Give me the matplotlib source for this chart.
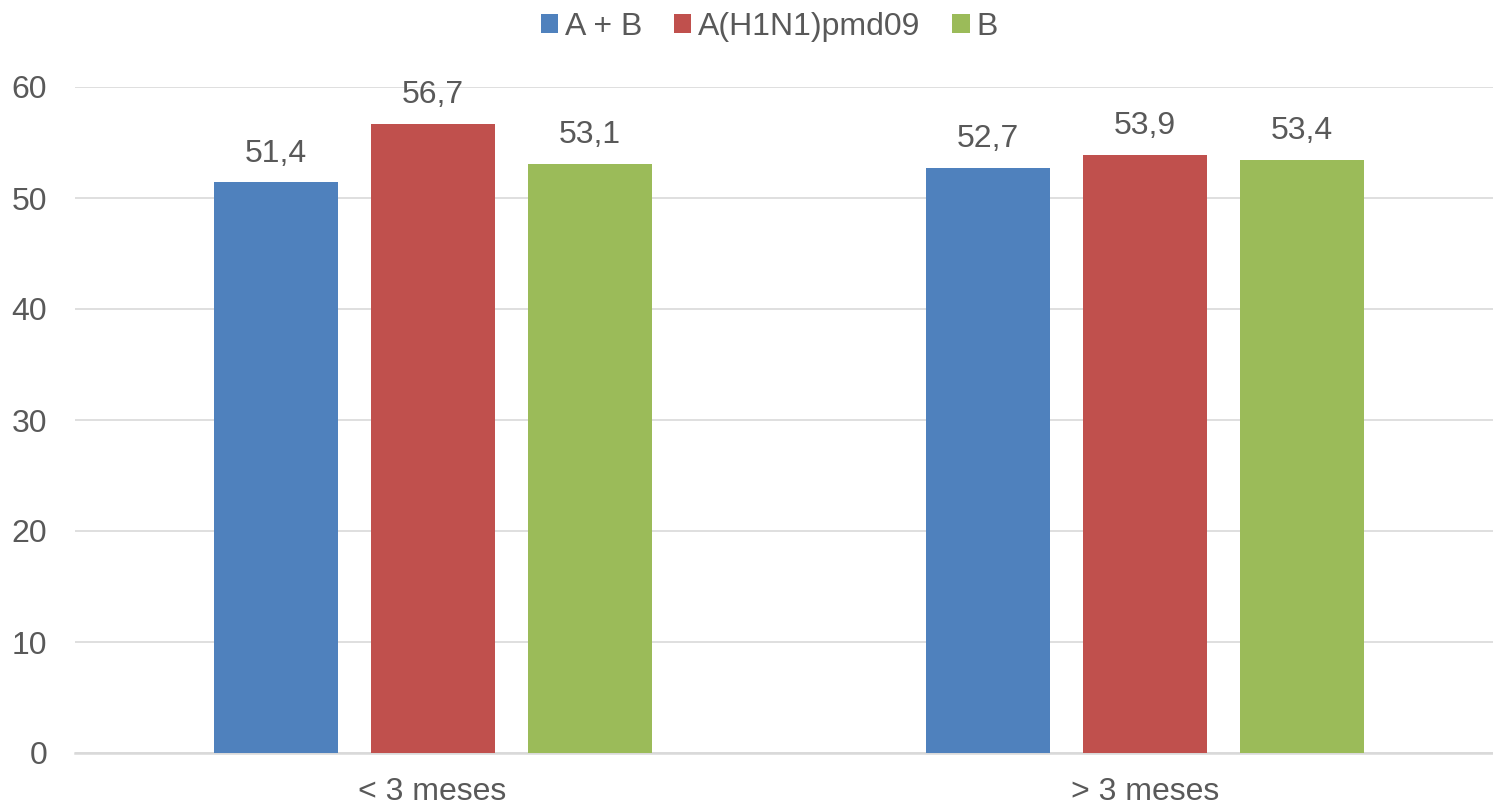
import numpy as np
import matplotlib
matplotlib.use("Agg")
import matplotlib.pyplot as plt

plt.rcParams["font.family"] = ["Liberation Sans", "DejaVu Sans"]

categories = ["< 3 meses", "> 3 meses"]
series = ["A + B", "A(H1N1)pmd09", "B"]
values = {
    "A + B": [51.4, 52.7],
    "A(H1N1)pmd09": [56.7, 53.9],
    "B": [53.1, 53.4],
}
colors = ["#4F81BD", "#C0504D", "#9BBB59"]
TXT = "#595959"
GRID = "#D9D9D9"
FS = 23

fig = plt.figure(figsize=(14.93, 8.07), dpi=100)
ax = fig.add_axes([75 / 1493, 54 / 807, 1 - 75 / 1493, (753 - 87) / 807])

x = np.arange(len(categories))
w = 0.174
step = 0.2204
for k, (name, c) in enumerate(zip(series, colors)):
    pos = x + (k - 1) * step
    bars = ax.bar(pos, values[name], width=w, color=c, label=name, zorder=3)
    for b, v in zip(bars, values[name]):
        ax.annotate(("%.1f" % v).replace(".", ","), (b.get_x() + b.get_width() / 2, v),
                    xytext=(0, 10), textcoords="offset points",
                    ha="center", va="bottom", fontsize=FS, color=TXT)

ax.set_xlim(-0.5018, 1.488)
ax.set_ylim(0, 60)
ax.set_yticks(range(0, 61, 10))
ax.set_xticks(x)
ax.set_xticklabels(categories)
ax.yaxis.grid(True, color=GRID, lw=1.2, zorder=0)
ax.set_axisbelow(True)
for s in ("top", "right", "left"):
    ax.spines[s].set_visible(False)
ax.spines["bottom"].set_color(GRID)
ax.spines["bottom"].set_linewidth(1.8)
ax.tick_params(axis="both", length=0, labelsize=FS, colors=TXT)
ax.tick_params(axis="y", pad=20)
ax.tick_params(axis="x", pad=17)

fig.legend(loc="center", bbox_to_anchor=(769 / 1493, 1 - 27 / 807), ncol=3,
           frameon=False, fontsize=FS, labelcolor=TXT,
           handlelength=0.55, handleheight=0.55, handletextpad=0.2,
           columnspacing=1.0)

fig.savefig("out.png", dpi=100)
